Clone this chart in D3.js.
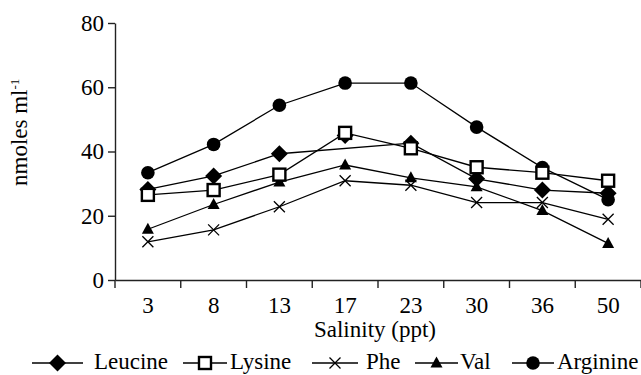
<!DOCTYPE html>
<html>
<head>
<meta charset="utf-8">
<script src="https://cdn.jsdelivr.net/npm/d3@7/dist/d3.min.js"></script>
<style>
  html, body { margin: 0; padding: 0; background: #fff; }
  svg { display: block; }
</style>
</head>
<body>
<svg id="chart" width="641" height="375"></svg>
<script>
// ---- data ----
const categories = ["3", "8", "13", "17", "23", "30", "36", "50"];
const leucine  = [28.2, 32.4, 39.3, 45.0, 42.6, 31.5, 28.0, 27.0];
const lysine   = [26.5, 28.0, 32.8, 45.8, 41.0, 35.1, 33.4, 30.9];
const phe      = [11.9, 15.6, 22.8, 30.9, 29.5, 24.1, 24.1, 18.9];
const val      = [15.8, 23.5, 30.5, 35.8, 31.8, 29.0, 21.6, 11.4];
const arginine = [33.4, 42.2, 54.4, 61.3, 61.3, 47.6, 35.0, 25.0];
const leucineLineSkips = ["17"]; // the reference's Leucine line bypasses this point
const yTicks = [0, 20, 40, 60, 80];
const seriesNames = ["Leucine", "Lysine", "Phe", "Val", "Arginine"];
const xTitle = "Salinity (ppt)";
const yTitle = "nmoles ml";
const yTitleSup = "-1";

const series = [
  { name: "Arginine", values: arginine, shape: "circle",  skip: [] },
  { name: "Leucine",  values: leucine,  shape: "diamond", skip: leucineLineSkips },
  { name: "Val",      values: val,      shape: "triangle",skip: [] },
  { name: "Phe",      values: phe,      shape: "cross",   skip: [] },
  { name: "Lysine",   values: lysine,   shape: "square",  skip: [] }
];

// ---- layout ----
const svg = d3.select("#chart");
const mLeft = 115, mRight = 641, mTop = 23, mBottom = 280;
const FONT = 23;
const FAM = "'Liberation Serif', 'Times New Roman', Times, serif";

const x = d3.scaleBand().domain(categories).range([mLeft, mRight]).padding(0);
const y = d3.scaleLinear().domain([0, 80]).range([mBottom, mTop]);
const cx = c => x(c) + x.bandwidth() / 2;

function drawMarker(g, shape, px, py) {
  if (shape === "circle") {
    g.append("circle").attr("cx", px).attr("cy", py).attr("r", 6.8).attr("fill", "#000");
  } else if (shape === "diamond") {
    const s = 8.5;
    g.append("path").attr("d", `M${px},${py - s}L${px + s},${py}L${px},${py + s}L${px - s},${py}Z`).attr("fill", "#000");
  } else if (shape === "square") {
    g.append("rect").attr("x", px - 6).attr("y", py - 6).attr("width", 12).attr("height", 12)
      .attr("fill", "#fff").attr("stroke", "#000").attr("stroke-width", 2.4);
  } else if (shape === "triangle") {
    g.append("path").attr("d", `M${px},${py - 6.5}L${px + 6},${py + 4.5}L${px - 6},${py + 4.5}Z`).attr("fill", "#000");
  } else if (shape === "cross") {
    const s = 5.5;
    g.append("path").attr("d", `M${px - s},${py - s}L${px + s},${py + s}M${px - s},${py + s}L${px + s},${py - s}`)
      .attr("stroke", "#000").attr("stroke-width", 1.3).attr("fill", "none");
  }
}

// axes
const yAxis = d3.axisLeft(y).tickValues(yTicks).tickSize(7).tickPadding(4).tickSizeOuter(0);
const gy = svg.append("g").attr("transform", `translate(${mLeft},0)`).call(yAxis);
gy.select(".domain").attr("stroke", "#222").attr("stroke-width", 1.4);
gy.selectAll(".tick line").attr("stroke", "#222").attr("stroke-width", 1.4);
gy.selectAll("text").attr("fill", "#000").style("font-size", FONT + "px").style("font-family", FAM);

const xAxis = d3.axisBottom(x).tickSize(0).tickPadding(17).tickSizeOuter(0);
const gx = svg.append("g").attr("transform", `translate(0,${mBottom})`).call(xAxis);
gx.select(".domain").attr("stroke", "#222").attr("stroke-width", 1.4);
gx.selectAll("text").attr("fill", "#000").style("font-size", FONT + "px").style("font-family", FAM);
// boundary ticks between categories
const boundaries = categories.map(c => x(c)).concat([x.range()[1]]);
gx.selectAll(".bt").data(boundaries).enter().append("line")
  .attr("x1", d => d).attr("x2", d => d).attr("y1", 0).attr("y2", 8)
  .attr("stroke", "#222").attr("stroke-width", 1.4);

// titles
svg.append("text").attr("x", (mLeft + mRight) / 2 - 3).attr("y", 337)
  .attr("text-anchor", "middle").style("font-size", FONT + "px").style("font-family", FAM).text(xTitle);
const yt = svg.append("text").attr("transform", "translate(27,186) rotate(-90)")
  .attr("text-anchor", "start").style("font-size", FONT + "px").style("font-family", FAM);
yt.append("tspan").text(yTitle);
yt.append("tspan").style("font-size", "13px").attr("dy", -8).text(yTitleSup);

// series
const line = d3.line().x(d => cx(d.c)).y(d => y(d.v));
series.forEach(s => {
  const pts = categories.map((c, i) => ({ c, v: s.values[i] }));
  const g = svg.append("g");
  g.append("path").datum(pts.filter(p => !s.skip.includes(p.c)))
    .attr("d", line).attr("fill", "none").attr("stroke", "#000").attr("stroke-width", 1.3);
  pts.forEach(p => drawMarker(g, s.shape, cx(p.c), y(p.v)));
});

// legend
const legendShapes = { Leucine: "diamond", Lysine: "square", Phe: "cross", Val: "triangle", Arginine: "circle" };
const legendPos = [
  { x0: 32, x1: 83, tx: 94 },
  { x0: 183, x1: 227, tx: 230 },
  { x0: 312, x1: 358, tx: 366 },
  { x0: 415, x1: 458, tx: 460 },
  { x0: 512, x1: 554, tx: 557 }
];
const ly = 363;
seriesNames.forEach((name, i) => {
  const p = legendPos[i];
  const g = svg.append("g");
  g.append("line").attr("x1", p.x0).attr("x2", p.x1).attr("y1", ly).attr("y2", ly)
    .attr("stroke", "#000").attr("stroke-width", 1.3);
  drawMarker(g, legendShapes[name], (p.x0 + p.x1) / 2, ly);
  g.append("text").attr("x", p.tx).attr("y", 369).style("font-size", FONT + "px").style("font-family", FAM).text(name);
});
</script>
</body>
</html>
